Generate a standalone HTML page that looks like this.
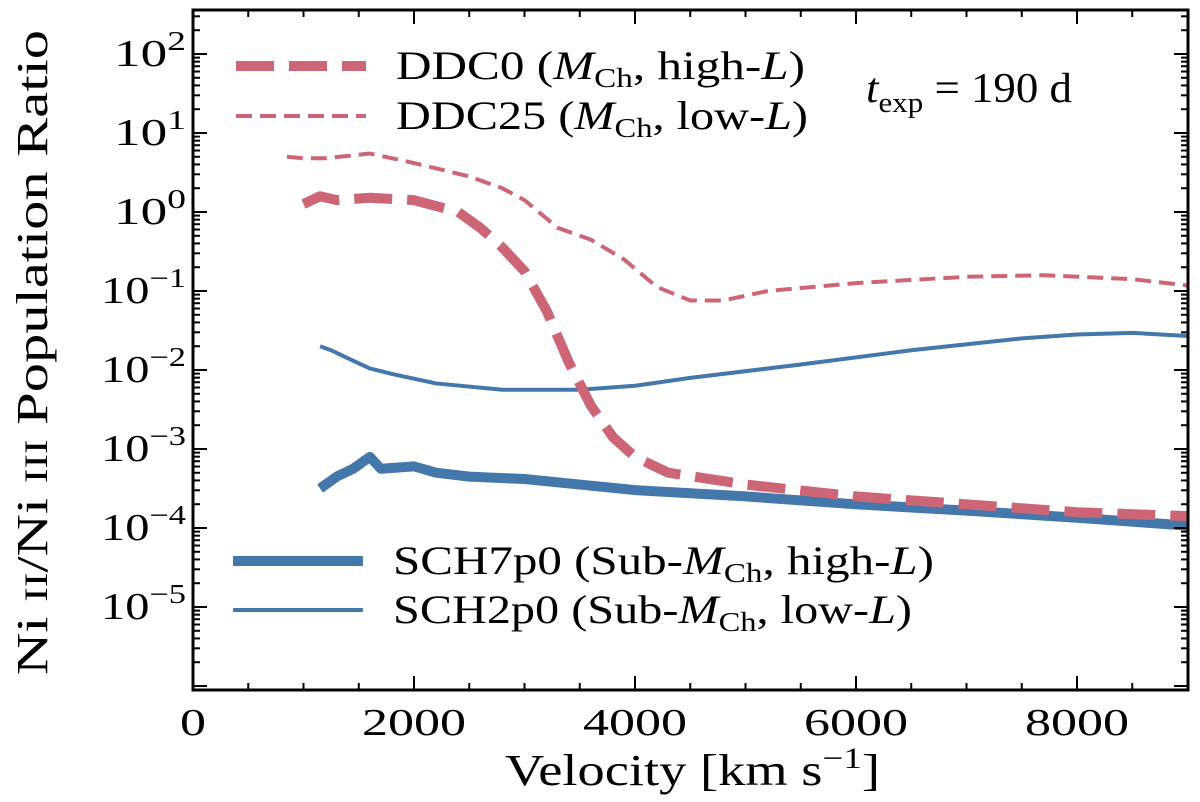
<!DOCTYPE html>
<html><head><meta charset="utf-8"><style>
body{margin:0;background:#fff;}
svg text{font-family:"Liberation Serif","DejaVu Serif",serif;fill:#000;}
</style></head><body>
<svg id="chart" width="1200" height="797" xmlns="http://www.w3.org/2000/svg">
<g id="marks"></g>
<rect x="193" y="10" width="995" height="680" fill="none" stroke="#000" stroke-width="3"/>
<g id="ticks"></g>
<text x="505" y="785" font-size="44" textLength="375" lengthAdjust="spacingAndGlyphs">Velocity [km s<tspan dy="-17" font-size="30">−1</tspan><tspan dy="17">]</tspan></text>
<text transform="translate(47,675) rotate(-90)" font-size="44" textLength="645" lengthAdjust="spacingAndGlyphs">Ni <tspan font-size="33">II</tspan>/Ni <tspan font-size="33">III</tspan> Population Ratio</text>
<text x="866" y="102" font-size="42" textLength="206" lengthAdjust="spacingAndGlyphs"><tspan font-style="italic">t</tspan><tspan font-size="29" dy="10">exp</tspan><tspan dy="-10"> = 190 d</tspan></text>
<g>
<line x1="236" y1="66" x2="366" y2="66" stroke="#cc6677" stroke-width="10" stroke-dasharray="38,15"/>
<text x="396" y="79" font-size="40" textLength="409" lengthAdjust="spacingAndGlyphs">DDC0 (<tspan font-style="italic">M</tspan><tspan font-size="27" dy="8">Ch</tspan><tspan dy="-8">, high-</tspan><tspan font-style="italic">L</tspan>)</text>
<line x1="236" y1="116" x2="366" y2="116" stroke="#cc6677" stroke-width="4" stroke-dasharray="16,8"/>
<text x="396" y="129" font-size="40" textLength="412" lengthAdjust="spacingAndGlyphs">DDC25 (<tspan font-style="italic">M</tspan><tspan font-size="27" dy="8">Ch</tspan><tspan dy="-8">, low-</tspan><tspan font-style="italic">L</tspan>)</text>
</g>
<g>
<line x1="233" y1="561" x2="363" y2="561" stroke="#4477aa" stroke-width="10"/>
<text x="393" y="574" font-size="40" textLength="541" lengthAdjust="spacingAndGlyphs">SCH7p0 (Sub-<tspan font-style="italic">M</tspan><tspan font-size="27" dy="8">Ch</tspan><tspan dy="-8">, high-</tspan><tspan font-style="italic">L</tspan>)</text>
<line x1="233" y1="610" x2="363" y2="610" stroke="#4477aa" stroke-width="4"/>
<text x="393" y="623" font-size="40" textLength="519" lengthAdjust="spacingAndGlyphs">SCH2p0 (Sub-<tspan font-style="italic">M</tspan><tspan font-size="27" dy="8">Ch</tspan><tspan dy="-8">, low-</tspan><tspan font-style="italic">L</tspan>)</text>
</g>
</svg>
<script>
const xTicks=[0,2000,4000,6000,8000];
const yTickExps=[-5,-4,-3,-2,-1,0,1,2];
const ddc0V=[1000,1150,1300,1600,2000,2400,2600,2800,3000,3200,3400,3600,3800,4000,4300,5000,6000,7000,8000,9000];
const ddc0Log=[0.1,0.2,0.15,0.18,0.15,0.0,-0.2,-0.45,-0.75,-1.25,-1.9,-2.45,-2.85,-3.1,-3.3,-3.45,-3.6,-3.7,-3.8,-3.85];
const ddc25V=[850,1000,1200,1600,2000,2500,2800,3000,3300,3600,3900,4200,4500,4800,5200,6000,7000,7700,8500,9000];
const ddc25Log=[0.7,0.68,0.68,0.74,0.62,0.45,0.3,0.15,-0.2,-0.35,-0.6,-0.95,-1.12,-1.12,-1.0,-0.9,-0.82,-0.8,-0.85,-0.93];
const sch2V=[1150,1250,1400,1600,1800,2200,2800,3500,4000,4500,5500,6500,7500,8000,8500,9000];
const sch2Log=[-1.7,-1.75,-1.85,-1.98,-2.05,-2.17,-2.25,-2.25,-2.2,-2.1,-1.93,-1.75,-1.6,-1.55,-1.53,-1.57];
const sch7V=[1150,1300,1450,1550,1600,1700,2000,2200,2500,3000,3500,4000,5000,6000,7000,8000,9000];
const sch7Log=[-3.5,-3.35,-3.25,-3.15,-3.1,-3.25,-3.22,-3.3,-3.35,-3.38,-3.45,-3.52,-3.6,-3.7,-3.78,-3.87,-3.97];
const NS='http://www.w3.org/2000/svg';
function xs(v){return 193+v*0.1105;}
function ys(l){return 212-79*l;}
const marks=document.getElementById('marks'),ticks=document.getElementById('ticks'),svg=document.getElementById('chart');
function line(vs,ls,w,dash,color,name){
  const p=document.createElementNS(NS,'polyline');
  p.setAttribute('points',vs.map((v,i)=>xs(v)+','+ys(ls[i])).join(' '));
  p.setAttribute('fill','none');p.setAttribute('stroke',color);p.setAttribute('stroke-width',w);
  if(dash)p.setAttribute('stroke-dasharray',dash);
  p.setAttribute('stroke-linejoin','round');
  
  
  marks.appendChild(p);
}
line(sch2V,sch2Log,4,null,'#4477aa','line-sch2p0');
line(sch7V,sch7Log,10,null,'#4477aa','line-sch7p0');
line(ddc25V,ddc25Log,4,'16,8','#cc6677','line-ddc25');
line(ddc0V,ddc0Log,10,'38,15','#cc6677','line-ddc0');
function tk(x1,y1,x2,y2){const l=document.createElementNS(NS,'line');l.setAttribute('x1',x1);l.setAttribute('y1',y1);l.setAttribute('x2',x2);l.setAttribute('y2',y2);l.setAttribute('stroke','#000');l.setAttribute('stroke-width',2);ticks.appendChild(l);}
for(let v=0;v<=9000;v+=500){const x=xs(v);const L=v%2000===0?14:7;tk(x,690,x,690-L);tk(x,10,x,10+L);}
xTicks.forEach(v=>{const t=document.createElementNS(NS,'text');const s=String(v);const w=26*s.length;t.setAttribute('x',xs(v)-w/2);t.setAttribute('y',735);t.setAttribute('font-size',38);t.setAttribute('textLength',w);t.setAttribute('lengthAdjust','spacingAndGlyphs');t.textContent=s;


svg.appendChild(t);});
for(let e=-6;e<=2;e++){const y=ys(e);if(y<10||y>690)continue;tk(193,y,207,y);tk(1188,y,1174,y);
for(let m=2;m<10;m++){const yy=ys(e+Math.log10(m));if(yy>10&&yy<690){tk(193,yy,200,yy);tk(1188,yy,1181,yy);}}}
yTickExps.forEach(e=>{const t=document.createElementNS(NS,'text');t.setAttribute('y',ys(e)+12);t.setAttribute('font-size',38);
const ts=document.createElementNS(NS,'tspan');ts.textContent='10';t.appendChild(ts);
const sup=document.createElementNS(NS,'tspan');sup.setAttribute('font-size',27);sup.setAttribute('dy',-16);sup.textContent=e<0?'−'+(-e):String(e);t.appendChild(sup);
const w=e<0?85:72;
t.setAttribute('x',186-w);
t.setAttribute('textLength',w);
t.setAttribute('lengthAdjust','spacingAndGlyphs');


svg.appendChild(t);});
</script>
</body></html>
